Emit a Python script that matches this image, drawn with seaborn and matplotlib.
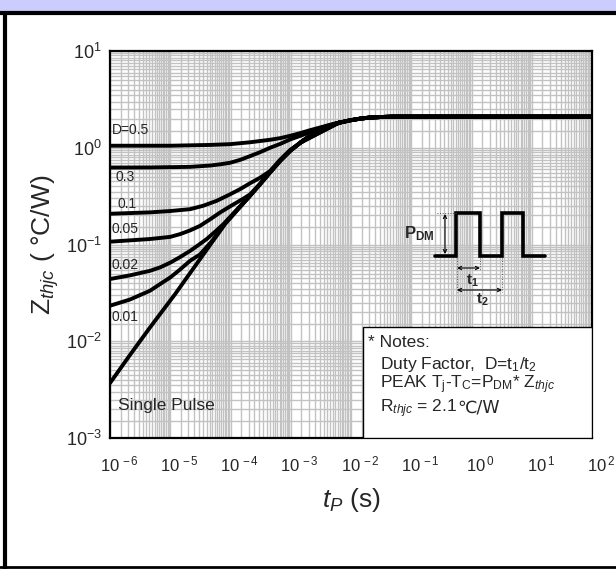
import numpy as np
import pandas as pd
import matplotlib
matplotlib.use("Agg")
import matplotlib.pyplot as plt
import matplotlib.ticker as mticker
from matplotlib.patches import Rectangle
from matplotlib.lines import Line2D
from matplotlib.transforms import ScaledTranslation
import seaborn as sns

# values: log10(t / s) and Zthjc in C/W
# shared tail where all curves have merged
tail_logt = [-2.84, -2.68, -2.515, -2.35, -2.19, -2.02, -1.85, -1.7, -1.5, -1.3, 2.0]
tail_z = [1.13, 1.33, 1.53, 1.69, 1.82, 1.92, 2.0, 2.05, 2.08, 2.1, 2.1]

sp_logt = [-6.0, -5.67, -5.336, -4.92, -4.506, -4.3, -4.09, -3.88, -3.676, -3.51,
           -3.344, -3.17, -3.01]
sp_z = [0.0037, 0.0072, 0.0139, 0.0307, 0.0707, 0.107, 0.163, 0.23, 0.319, 0.42,
        0.556, 0.74, 0.93]

d05_logt = [-6.0, -5.0, -4.67, -4.34, -4.008, -3.676, -3.344, -3.17, -3.01, -2.84, -2.68,
            -2.515, -2.35, -2.19]
d05_z = [1.05, 1.05, 1.06, 1.07, 1.09, 1.14, 1.21, 1.26, 1.33, 1.42, 1.52, 1.62, 1.73, 1.83]

d03_logt = [-6.0, -5.336, -4.67, -4.34, -4.17, -4.008, -3.84, -3.676, -3.51, -3.344,
            -3.17, -3.01, -2.84, -2.68, -2.515, -2.35, -2.19]
d03_z = [0.625, 0.626, 0.635, 0.655, 0.675, 0.70, 0.75, 0.82, 0.90, 1.0,
         1.1, 1.22, 1.33, 1.45, 1.58, 1.71, 1.83]

d01_logt = [-6.0, -5.336, -5.0, -4.67, -4.45, -4.23, -4.03, -3.84, -3.676, -3.51, -3.344,
            -3.17, -3.01]
d01_z = [0.208, 0.215, 0.222, 0.232, 0.252, 0.283, 0.325, 0.374, 0.43, 0.49, 0.575,
         0.76, 0.95]

d005_logt = [-6.0, -5.336, -5.0, -4.84, -4.67, -4.506, -4.34, -4.17, -4.03, -3.897, -3.78,
             -3.676, -3.51, -3.344, -3.17, -3.01]
d005_z = [0.107, 0.114, 0.12, 0.128, 0.14, 0.156, 0.182, 0.215, 0.243, 0.272, 0.30,
          0.33, 0.425, 0.56, 0.74, 0.93]

d002_logt = [-6.0, -5.67, -5.336, -5.17, -5.0, -4.84, -4.67, -4.53, -4.395, -4.26, -4.12,
             -3.88, -3.676, -3.51, -3.344, -3.17, -3.01]
d002_z = [0.044, 0.048, 0.0535, 0.058, 0.065, 0.074, 0.086, 0.099, 0.114, 0.135, 0.162,
          0.235, 0.32, 0.42, 0.556, 0.74, 0.93]

d001_logt = [-6.0, -5.67, -5.336, -5.17, -5.0, -4.84, -4.67, -4.506, -4.3, -4.09,
             -3.88, -3.676, -3.51, -3.344, -3.17, -3.01]
d001_z = [0.0233, 0.027, 0.0333, 0.039, 0.0457, 0.055, 0.068, 0.079, 0.11, 0.165,
          0.23, 0.319, 0.42, 0.556, 0.74, 0.93]

curve_names = ["Single Pulse", "D=0.5", "0.3", "0.1", "0.05", "0.02", "0.01"]
curve_logt = [sp_logt, d05_logt, d03_logt, d01_logt, d005_logt, d002_logt, d001_logt]
curve_z = [sp_z, d05_z, d03_z, d01_z, d005_z, d002_z, d001_z]

xtick_vals = [1e-6, 1e-5, 1e-4, 1e-3, 1e-2, 1e-1, 1e0, 1e1, 1e2]
xtick_labels = [r"$10^{\,-6}$", r"$10^{\,-5}$", r"$10^{\,-4}$", r"$10^{\,-3}$", r"$10^{\,-2}$",
                r"$10^{\,-1}$", r"$10^{\,0}$", r"$10^{\,1}$", r"$10^{\,2}$"]
ytick_vals = [1e-3, 1e-2, 1e-1, 1e0, 1e1]
ytick_labels = [r"$10^{-3}$", r"$10^{-2}$", r"$10^{-1}$", r"$10^{0}$", r"$10^{1}$"]

# pulse sketch (inset units)
pulse_x = [435, 456, 456, 480, 480, 502, 502, 523, 523, 545]
pulse_y = [256, 256, 213, 213, 256, 256, 213, 213, 256, 256]

rows = []
for name, lts, zs in zip(curve_names, curve_logt, curve_z):
    for lt, z in zip(list(lts) + tail_logt, list(zs) + tail_z):
        if lt > lts[-1] or lt in lts:
            rows.append({"t": 10.0 ** lt, "Z": z, "curve": name})
df = pd.DataFrame(rows)

sns.set_style("white")
plt.rcParams["font.family"] = ["Liberation Sans", "DejaVu Sans", "Noto Sans CJK SC"]
plt.rcParams["mathtext.fontset"] = "custom"
plt.rcParams["mathtext.rm"] = "Liberation Sans"
plt.rcParams["mathtext.it"] = "Liberation Sans:italic"
plt.rcParams["mathtext.bf"] = "Liberation Sans:bold"

fig = plt.figure(figsize=(6.16, 5.69), dpi=100)
ax = fig.add_axes([0.1786, 0.2302, 0.7825, 0.6801])

sns.lineplot(data=df, x="t", y="Z", hue="curve", palette=["black"] * 7, estimator=None,
             sort=False, legend=False, lw=2.8, ax=ax, zorder=4,
             solid_joinstyle="round", solid_capstyle="round")

ax.set_xscale("log")
ax.set_yscale("log")
ax.set_xlim(1e-6, 1e2)
ax.set_ylim(1e-3, 1e1)

ax.set_xticks(xtick_vals)
ax.set_xticklabels(xtick_labels, fontsize=12)
ax.set_yticks(ytick_vals)
ax.set_yticklabels(ytick_labels, fontsize=13)
subs = np.arange(1.5, 10, 0.5)
ax.xaxis.set_minor_locator(mticker.LogLocator(base=10, subs=subs, numticks=30))
ax.yaxis.set_minor_locator(mticker.LogLocator(base=10, subs=subs, numticks=30))
ax.xaxis.set_minor_formatter(mticker.NullFormatter())
ax.yaxis.set_minor_formatter(mticker.NullFormatter())
ax.tick_params(which="both", length=0)
ax.tick_params(axis="x", pad=12)
ax.tick_params(axis="y", pad=6)
for lab in ax.get_xticklabels():
    lab.set_transform(lab.get_transform() + ScaledTranslation(0.09, 0, fig.dpi_scale_trans))

ax.grid(which="both", color="#c2c2c2", lw=1.0)
ax.set_axisbelow(True)
for sp in ax.spines.values():
    sp.set_color("black")
    sp.set_linewidth(1.6)

ax.set_xlabel("$t_P$ (s)", fontsize=19, labelpad=8)
ax.set_ylabel("Z$_{thjc}$ ( °C/W)", fontsize=19, labelpad=3)

# curve labels
ax.text(0.004, 0.796, "D=0.5", transform=ax.transAxes, fontsize=10, va="center")
ax.text(0.012, 0.674, "0.3", transform=ax.transAxes, fontsize=10, va="center")
ax.text(0.015, 0.605, "0.1", transform=ax.transAxes, fontsize=10, va="center")
ax.text(0.004, 0.540, "0.05", transform=ax.transAxes, fontsize=10, va="center")
ax.text(0.004, 0.447, "0.02", transform=ax.transAxes, fontsize=10, va="center")
ax.text(0.004, 0.313, "0.01", transform=ax.transAxes, fontsize=10, va="center")
ax.text(0.017, 0.083, "Single Pulse", transform=ax.transAxes, fontsize=12.5, va="center")

# notes box
ax.add_patch(Rectangle((0.525, 0.0), 0.475, 0.287, transform=ax.transAxes,
                       facecolor="white", edgecolor="black", lw=1.0, zorder=5))
ax.text(0.535, 0.248, "* Notes:", transform=ax.transAxes, fontsize=12.5, va="center", zorder=6)
ax.text(0.560, 0.189, "Duty Factor,  D=t$_1$/t$_2$", transform=ax.transAxes,
        fontsize=12.5, va="center", zorder=6)
ax.text(0.560, 0.137, r"PEAK T$_\mathrm{j}$-T$_\mathrm{C}$=P$_\mathrm{DM}$* Z$_{thjc}$",
        transform=ax.transAxes, fontsize=12.5, va="center", zorder=6)
r_txt = ax.text(0.560, 0.066, "R$_{thjc}$ = 2.1", transform=ax.transAxes,
                fontsize=12.5, va="baseline", zorder=6)
fig.canvas.draw()
bb = r_txt.get_window_extent()
x_end = ax.transAxes.inverted().transform((bb.x1, bb.y0))[0]
ax.text(x_end, 0.066, "℃/W", transform=ax.transAxes, fontsize=12.5, va="baseline",
        zorder=6, family=["DejaVu Sans", "Noto Sans CJK SC"])

# pulse sketch inset
ins = fig.add_axes([400 / 616, (569 - 305) / 569, 150 / 616, 100 / 569])
ins.set_xlim(400, 550)
ins.set_ylim(305, 205)
ins.axis("off")
ins.patch.set_alpha(0)
ins.plot(pulse_x, pulse_y, color="black", lw=2.6, solid_joinstyle="miter")
ins.plot([437, 456], [213, 213], color="#555555", lw=0.7, ls=":")
ins.plot([457, 457], [258, 292], color="#555555", lw=0.7, ls=":")
ins.plot([480, 480], [258, 270], color="#555555", lw=0.7, ls=":")
ins.plot([502, 502], [258, 292], color="#555555", lw=0.7, ls=":")
arrow = dict(arrowstyle="<->", color="black", lw=0.8, shrinkA=0, shrinkB=0,
             mutation_scale=6)
ins.annotate("", xy=(445, 214), xytext=(445, 254), arrowprops=arrow)
ins.annotate("", xy=(457, 268), xytext=(480, 268), arrowprops=arrow)
ins.annotate("", xy=(457, 290), xytext=(502, 290), arrowprops=arrow)
ins.text(419, 234, r"P$_\mathbf{DM}$", fontsize=12, fontweight="bold", ha="center", va="center")
ins.text(472, 281, r"t$_\mathbf{1}$", fontsize=11, fontweight="bold", ha="center", va="center")
ins.text(482, 300, r"t$_\mathbf{2}$", fontsize=11, fontweight="bold", ha="center", va="center")

# header band and outer frame (left, top, bottom)
fig.add_artist(Rectangle((0, (569 - 11) / 569), 1, 11 / 569, transform=fig.transFigure,
                         facecolor="#ccccff", edgecolor="none"))
fig.add_artist(Line2D([0, 1], [(569 - 13) / 569] * 2, transform=fig.transFigure,
                      color="black", lw=3))
fig.add_artist(Line2D([5 / 616] * 2, [0, (569 - 13) / 569], transform=fig.transFigure,
                      color="black", lw=3))
fig.add_artist(Line2D([0, 1], [2 / 569] * 2, transform=fig.transFigure,
                      color="black", lw=2))

fig.savefig("out.png", dpi=100)
